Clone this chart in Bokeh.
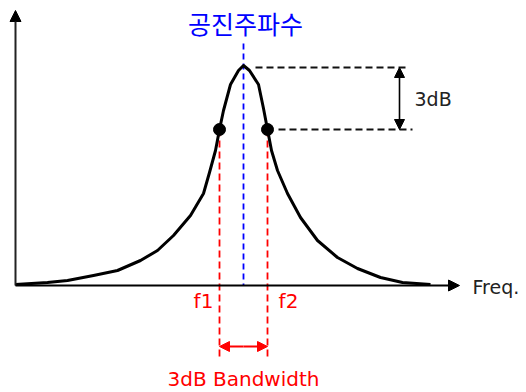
from bokeh.plotting import figure
from bokeh.models import Range1d, Arrow, NormalHead, Label
from bokeh.embed import file_html
from bokeh.resources import INLINE

# Resonance response curve, sampled in canvas units (x right, y down)
curve_x = [15, 47, 67, 93, 117, 140, 157, 173, 190, 203, 209, 215, 219, 223, 230, 238, 243,
           249, 258, 263, 267, 271, 277, 287, 300, 317, 337, 357, 380, 402, 430]
curve_y = [284, 282, 280, 275, 270, 260, 250, 235, 215, 193, 172, 150, 129, 110, 84, 70, 65,
           70, 84, 108, 129, 150, 170, 193, 217, 240, 257, 268, 277, 282, 284]

# Key frequencies and levels
f0 = 243          # resonant frequency
f1, f2 = 219, 267 # half-power points
peak_level = 66
half_level = 129
baseline = 285
origin_x = 15

W, H = 526, 392
p = figure(width=W, height=H, output_backend="svg", toolbar_location=None,
           x_range=Range1d(0, W), y_range=Range1d(H, 0),
           min_border=0, min_border_left=0, min_border_right=0,
           min_border_top=0, min_border_bottom=0)
p.axis.visible = False
p.grid.visible = False
p.outline_line_color = None
p.background_fill_color = "white"

# Axes with arrow heads
p.add_layout(Arrow(x_start=origin_x, y_start=baseline, x_end=origin_x, y_end=10,
                   line_width=2, line_color="#222222",
                   end=NormalHead(size=11, fill_color="black", line_color="black")))
p.add_layout(Arrow(x_start=origin_x, y_start=baseline, x_end=459, y_end=baseline,
                   line_width=2, line_color="black",
                   end=NormalHead(size=11, fill_color="black", line_color="black")))

# Resonant frequency marker
p.line([f0, f0], [43, baseline], line_color="blue", line_width=1.8, line_dash="6 4")

# Bandwidth edges
for f in (f1, f2):
    p.line([f, f], [half_level, 358], line_color="red", line_width=1.8, line_dash="7 4")

# 3 dB reference levels
p.line([255, 405], [peak_level + 1, peak_level + 1], line_color="#111111", line_width=2, line_dash="7 4")
p.line([278, 412], [half_level, half_level], line_color="#111111", line_width=2, line_dash="7 4")

# Response curve
p.line(curve_x, curve_y, line_color="black", line_width=3, line_join="round")
p.scatter([f1, f2], [half_level, half_level], size=12, fill_color="black", line_color="black")

# 3 dB vertical arrow
mid_level = (peak_level + half_level) / 2
p.add_layout(Arrow(x_start=399, y_start=mid_level, x_end=399, y_end=peak_level + 1,
                   line_width=1.6, line_color="black",
                   end=NormalHead(size=10, fill_color="black", line_color="black")))
p.add_layout(Arrow(x_start=399, y_start=mid_level, x_end=399, y_end=half_level,
                   line_width=1.6, line_color="black",
                   end=NormalHead(size=10, fill_color="black", line_color="black")))

# Bandwidth horizontal arrow
mid_f = (f1 + f2) / 2
p.add_layout(Arrow(x_start=mid_f, y_start=346, x_end=f1, y_end=346,
                   line_width=2, line_color="red",
                   end=NormalHead(size=10, fill_color="red", line_color="red")))
p.add_layout(Arrow(x_start=mid_f, y_start=346, x_end=f2, y_end=346,
                   line_width=2, line_color="red",
                   end=NormalHead(size=10, fill_color="red", line_color="red")))

def label(x, y, text, color, size, font="DejaVu Sans", align="center"):
    p.add_layout(Label(x=x, y=y, text=text, text_color=color, text_font=font,
                       text_font_size=f"{size}px", text_align=align,
                       text_baseline="middle"))

label(f0 + 2, 22, "공진주파수", "blue", 25, font="Noto Sans CJK KR")
label(414, 98, "3dB", "#222222", 19, align="left")
label(472, 286, "Freq.", "#222222", 19, align="left")
label(203, 300, "f1", "red", 20)
label(288, 300, "f2", "red", 20)
label(f0, 378, "3dB Bandwidth", "red", 20)

open("out.html", "w").write(file_html(p, INLINE))
